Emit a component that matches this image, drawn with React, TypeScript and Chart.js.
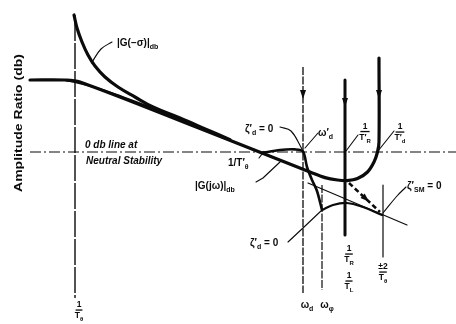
import React, { useEffect, useRef } from "react";
import { Chart, registerables } from "chart.js";

Chart.register(...registerables);

// x: log-frequency (arbitrary units), y: amplitude ratio in dB (0 dB = neutral stability)
const X_RANGE = [0, 91.2];
const DB_RANGE = [-86, 76];

// |G(jω)| straight-line asymptote, the notch at 1/T'R and the rise toward 1/T'd
const asymptoteX = [6, 13, 16, 40, 62, 65, 67.5, 69.4, 71.5, 73.5, 74.8, 75.5, 75.8, 75.8];
const asymptoteDb = [36, 36, 35, 11.7, -10, -12.8, -14, -14.3, -13.3, -10, -5, 0, 5, 47];

// exact low-frequency bend of |G(jω)|
const exactX = [13, 15, 19, 24, 30.6, 36, 40];
const exactDb = [36, 35, 32.3, 28, 21.8, 16, 11.7];

// |G(-σ)| curve
const gSigmaX = [14.8, 15.4, 16.4, 17.6, 19, 21, 23.6, 27, 30.6, 36, 42, 46];
const gSigmaDb = [68.5, 62, 55, 48.5, 43, 37.5, 32.5, 27.5, 22.5, 17, 10.5, 6.2];

// ζ'd = 0 lens and the steep drop after ω'd
const lensX = [52.4, 56, 59, 60.6, 61.4, 62.4, 63.4, 64.4];
const lensDb = [-0.5, 1, 1.3, 0.3, -7.5, -14, -19.5, -29];

// hump between ωφ and ±2/Tθ
const humpX = [64.4, 66.6, 69.4, 72.6, 76.4];
const humpDb = [-29, -26.5, -25.5, -27.5, -31.5];

// high-frequency asymptote
const hfX = [61.6, 81.4];
const hfDb = [-15.5, -36.5];

// dashed arrow from the notch to ζ'SM = 0
const dashArrowX = [69.8, 76];
const dashArrowDb = [-15.5, -30];

// 0 dB line of neutral stability
const zeroX = [6, 91.2];
const zeroDb = [0, 0];

// vertical frequency markers: 1/Tθ, ωd, ωφ, 1/TR, ±2/Tθ
const vertX = [15, 60.6, 64.4, 69, 76.6];
const vertTopDb = [68.5, 42.5, -16.5, 36, -16.5];
const vertBottomDb = [-73, -70.5, -69, -41.5, -52.5];

// downward arrowheads on the marker lines
const arrowX = [60.6, 69, 75.8];
const arrowDb = [26.5, 22.5, 26.5];

// leader lines
const leaderGSigmaX = [22.4, 20.2, 18.3];
const leaderGSigmaDb = [55, 51.5, 44.5];
const leaderZetaUpX = [56, 58.2, 60.4];
const leaderZetaUpDb = [12.5, 10.5, 1.5];
const leaderOmegaX = [61, 63.6];
const leaderOmegaDb = [2, 9.5];
const leaderTRX = [69.2, 71.6];
const leaderTRDb = [0.5, 8.5];
const leaderTdX = [75.6, 78.8];
const leaderTdDb = [0.5, 10.5];
const leaderSMX = [76.6, 79.4, 81.2];
const leaderSMDb = [-30.5, -22, -17.5];
const leaderGjwX = [51.2, 52.6, 56];
const leaderGjwDb = [-15, -13, -5];
const leaderTthX = [51.8, 52.8];
const leaderTthDb = [-3, 0.3];
const leaderZetaLowX = [57.6, 60.6, 64.4];
const leaderZetaLowDb = [-45, -38, -29];

// text labels
const labelText = [
  "|G(−σ)|_{db}",
  "0 db line at",
  "Neutral Stability",
  "1/T′_{θ}",
  "|G(jω)|_{db}",
  "ζ′_{d} = 0",
  "ω′_{d}",
  "ζ′_{SM} = 0",
  "ζ′_{d} = 0",
  "ω_{d}",
  "ω_{φ}",
];
const labelX = [23.4, 17, 17.2, 45.6, 39, 49, 63.6, 81.4, 50, 61.4, 65.4];
const labelDb = [54.5, 3.5, -4.5, -5.5, -17, 11.5, 9.5, -17, -45.5, -76.5, -76.5];

// stacked fraction labels
const fracNum = ["1", "1", "1", "1", "±2", "1"];
const fracDen = ["T′_{R}", "T′_{d}", "T_{R}", "T_{L}", "T_{θ}", "T_{θ}"];
const fracX = [73, 80, 69.8, 69.8, 76.6, 15.8];
const fracDb = [10.25, 10, -51, -64.5, -60, -79];

const axisTitle = "Amplitude Ratio (db)";
const axisTitleX = 3.8;
const axisTitleDb = 14.5;

// ---------- styling ----------
const INK = "#0b0b0b";
const FONT = "'Liberation Sans', 'DejaVu Sans', Arial, sans-serif";
const labelItalic = [false, true, true, false, false, false, false, false, false, false, false];
const labelAlign = ["left", "left", "left", "left", "left", "left", "left", "left", "left", "center", "center"];
const vertWidth = [1.4, 1.3, 1.2, 3, 1.2];
const vertDash = [[26, 2], [8, 1.5], [8, 1.5], [], []];

type Pt = { x: number; y: number };
const zip = (xs: number[], ys: number[]): Pt[] => xs.map((x, i) => ({ x, y: ys[i] }));

function lineDs(data: Pt[], width: number, extra: any = {}) {
  return {
    data,
    showLine: true,
    borderColor: INK,
    backgroundColor: INK,
    borderWidth: width,
    pointRadius: 0,
    pointHoverRadius: 0,
    tension: 0,
    fill: false,
    borderCapStyle: "round",
    borderJoinStyle: "round",
    ...extra,
  };
}

function parseRich(s: string) {
  const out: { t: string; k: string }[] = [];
  const re = /([_^])\{([^}]*)\}/g;
  let last = 0;
  let m: RegExpExecArray | null;
  while ((m = re.exec(s))) {
    if (m.index > last) out.push({ t: s.slice(last, m.index), k: "n" });
    out.push({ t: m[2], k: m[1] === "_" ? "sub" : "sup" });
    last = re.lastIndex;
  }
  if (last < s.length) out.push({ t: s.slice(last), k: "n" });
  return out;
}

function drawRich(ctx: CanvasRenderingContext2D, s: string, x: number, y: number, size: number, italic: boolean, align: string) {
  const parts = parseRich(s);
  const fontOf = (k: string) => `${italic ? "italic " : ""}bold ${k === "n" ? size : Math.round(size * 0.72)}px ${FONT}`;
  let total = 0;
  const widths = parts.map((p) => {
    ctx.font = fontOf(p.k);
    const w = ctx.measureText(p.t).width;
    total += w;
    return w;
  });
  let cx = align === "center" ? x - total / 2 : align === "right" ? x - total : x;
  ctx.textAlign = "left";
  ctx.textBaseline = "middle";
  parts.forEach((p, i) => {
    ctx.font = fontOf(p.k);
    const dy = p.k === "sub" ? size * 0.38 : p.k === "sup" ? -size * 0.35 : 0;
    ctx.fillText(p.t, cx, y + dy);
    cx += widths[i];
  });
  return total;
}

function drawFraction(ctx: CanvasRenderingContext2D, num: string, den: string, x: number, y: number, size: number) {
  const w1 = drawRich(ctx, num, x, y - size * 0.62, size, false, "center");
  const w2 = drawRich(ctx, den, x, y + size * 0.72, size, false, "center");
  const w = Math.max(w1, w2) * 0.8;
  ctx.fillRect(x - w / 2, y - 0.6, w, 1.3);
}

function arrowHead(ctx: CanvasRenderingContext2D, tx: number, ty: number, dx: number, dy: number, len: number, half: number) {
  const n = Math.hypot(dx, dy) || 1;
  const ux = dx / n, uy = dy / n;
  const bx = tx - ux * len, by = ty - uy * len;
  ctx.beginPath();
  ctx.moveTo(tx, ty);
  ctx.lineTo(bx - uy * half, by + ux * half);
  ctx.lineTo(bx + uy * half, by - ux * half);
  ctx.closePath();
  ctx.fill();
}

const annotate = {
  id: "annotate",
  afterDatasetsDraw(chart: any) {
    const { ctx } = chart;
    const sx = chart.scales.x, sy = chart.scales.y;
    const px = (v: number) => sx.getPixelForValue(v);
    const py = (v: number) => sy.getPixelForValue(v);
    ctx.save();
    ctx.fillStyle = INK;

    arrowX.forEach((ax, i) => arrowHead(ctx, px(ax), py(arrowDb[i]), 0, 1, 9, 3));
    const [x0, x1] = dashArrowX, [y0, y1] = dashArrowDb;
    const tx = px(x0 + (x1 - x0) * 0.65), ty = py(y0 + (y1 - y0) * 0.65);
    arrowHead(ctx, tx, ty, px(x1) - px(x0), py(y1) - py(y0), 9, 3);

    labelText.forEach((t, i) => drawRich(ctx, t, px(labelX[i]), py(labelDb[i]), 10, labelItalic[i], labelAlign[i]));
    fracNum.forEach((n, i) => drawFraction(ctx, n, fracDen[i], px(fracX[i]), py(fracDb[i]), 8.5));

    ctx.save();
    ctx.translate(px(axisTitleX), py(axisTitleDb));
    ctx.rotate(-Math.PI / 2);
    ctx.font = `bold 10px ${FONT}`;
    ctx.textAlign = "center";
    ctx.textBaseline = "middle";
    const w = ctx.measureText(axisTitle).width;
    const target = 138;
    ctx.scale(target / w, 1);
    ctx.fillText(axisTitle, 0, 0);
    ctx.restore();

    ctx.restore();
  },
};

export default function App() {
  const ref = useRef<HTMLCanvasElement | null>(null);
  useEffect(() => {
    if (!ref.current) return;
    const datasets: any[] = [
      lineDs(zip(zeroX, zeroDb), 1.2, { borderDash: [11, 3, 2, 3], borderCapStyle: "butt" }),
      ...vertX.map((vx, i) =>
        lineDs(zip([vx, vx], [vertTopDb[i], vertBottomDb[i]]), vertWidth[i], { borderDash: vertDash[i], borderCapStyle: "butt" })
      ),
      lineDs(zip(asymptoteX, asymptoteDb), 3.2, { tension: 0.35 }),
      lineDs(zip(exactX, exactDb), 2, { tension: 0.4 }),
      lineDs(zip(gSigmaX, gSigmaDb), 3.2, { tension: 0.4 }),
      lineDs(zip(lensX, lensDb), 2.6, { tension: 0.3 }),
      lineDs(zip(humpX, humpDb), 2.2, { tension: 0.4 }),
      lineDs(zip(hfX, hfDb), 1.2),
      lineDs(zip(dashArrowX, dashArrowDb), 2.6, { borderDash: [5, 3], borderCapStyle: "butt" }),
      lineDs(zip(leaderGSigmaX, leaderGSigmaDb), 1.1, { tension: 0.4 }),
      lineDs(zip(leaderZetaUpX, leaderZetaUpDb), 1.1, { tension: 0.4 }),
      lineDs(zip(leaderOmegaX, leaderOmegaDb), 1.1),
      lineDs(zip(leaderTRX, leaderTRDb), 1.1),
      lineDs(zip(leaderTdX, leaderTdDb), 1.1),
      lineDs(zip(leaderSMX, leaderSMDb), 1.1, { tension: 0.4 }),
      lineDs(zip(leaderGjwX, leaderGjwDb), 1.1),
      lineDs(zip(leaderTthX, leaderTthDb), 1.1),
      lineDs(zip(leaderZetaLowX, leaderZetaLowDb), 1.1),
    ];
    const chart = new Chart(ref.current, {
      type: "scatter",
      data: { datasets },
      options: {
        animation: false,
        responsive: false,
        devicePixelRatio: 1,
        layout: { padding: 0 },
        events: [],
        plugins: { legend: { display: false }, tooltip: { enabled: false } },
        scales: {
          x: { type: "linear", min: X_RANGE[0], max: X_RANGE[1], display: false },
          y: { type: "linear", min: DB_RANGE[0], max: DB_RANGE[1], display: false },
        },
      },
      plugins: [annotate],
    } as any);
    return () => chart.destroy();
  }, []);
  return (
    <div style={{ position: "absolute", left: 0, top: 0, width: 456, height: 324, background: "#fff" }}>
      <canvas ref={ref} width={456} height={324} style={{ display: "block" }} />
    </div>
  );
}
